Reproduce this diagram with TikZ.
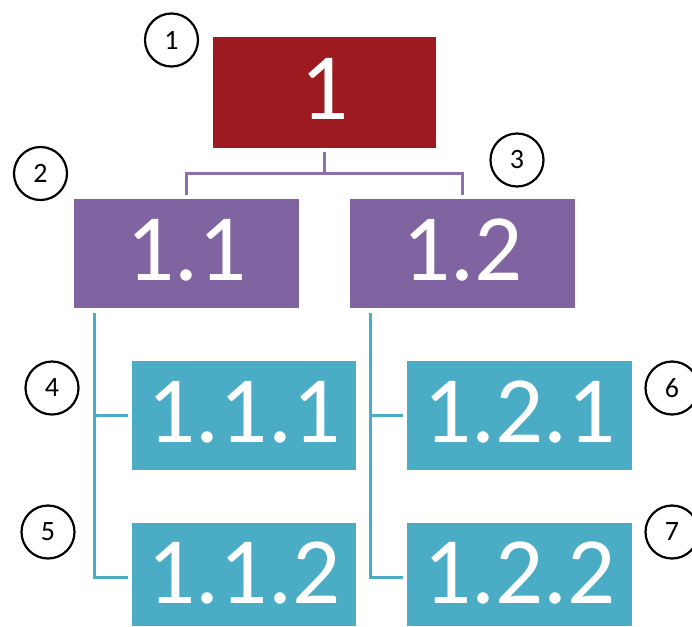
\documentclass[tikz,border=0pt]{standalone}
\usepackage{fontspec}
\setmainfont{Carlito}
\definecolor{boxred}{HTML}{9C1A20}
\definecolor{boxpurple}{HTML}{8064A2}
\definecolor{boxteal}{HTML}{4BACC6}
\definecolor{linepurple}{HTML}{8C70AE}
\begin{document}
\begin{tikzpicture}[x=1pt,y=-1pt,
  wbsbox/.style={rectangle, inner sep=0pt, text=white, minimum width=224pt, minimum height=109pt,
    font=\fontsize{95}{95}\selectfont, text depth=7pt},
  lowbox/.style={wbsbox, minimum height=103pt, text depth=3pt},
  numcirc/.style={circle, draw=black, line width=2.2pt, fill=white, minimum size=53pt, inner sep=0pt,
    font=\fontsize{28}{28}\selectfont},
  pline/.style={draw=linepurple, line width=3pt},
  tline/.style={draw=boxteal, line width=3pt}]
\useasboundingbox (0,0) rectangle (692,626);
\clip (0,0) rectangle (692,626);
\node[wbsbox, fill=boxred, minimum width=223pt, minimum height=111pt] (b1) at (324.5,92.5) {1};
\node[wbsbox, fill=boxpurple, minimum width=225pt] (b11) at (186.5,253.5) {1.1};
\node[wbsbox, fill=boxpurple, minimum width=225pt] (b12) at (462.5,253.5) {1.2};
\node[wbsbox, fill=boxteal] (b111) at (244,415.5) {1.1.1};
\node[lowbox, fill=boxteal] (b112) at (244,574.5) {1.1.2};
\node[wbsbox, fill=boxteal, minimum width=225pt] (b121) at (519.5,415.5) {1.2.1};
\node[lowbox, fill=boxteal, minimum width=225pt] (b122) at (519.5,574.5) {1.2.2};
% purple connectors
\coordinate (jn) at ([yshift=-25pt]b1.south);
\draw[pline] ([yshift=-4pt]b1.south) -- (jn);
\draw[pline] (jn) -| ([yshift=4pt]b11.north);
\draw[pline] (jn) -| ([yshift=4pt]b12.north);
% teal connectors
\coordinate (t1) at ([xshift=21pt,yshift=-5pt]b11.south west);
\coordinate (t2) at ([xshift=21pt,yshift=-5pt]b12.south west);
\coordinate (e112) at ([xshift=-4pt,yshift=-2.5pt]b112.west);
\coordinate (e122) at ([xshift=-4pt,yshift=-2.5pt]b122.west);
\draw[tline] (t1) |- (e112);
\draw[tline] (t1 |- b111.west) -- ([xshift=-4pt]b111.west);
\draw[tline] (t2) |- (e122);
\draw[tline] (t2 |- b121.west) -- ([xshift=-4pt]b121.west);
% numbered circles
\node[numcirc] (c1) at (171.5,40) {1};
\node[numcirc] (c2) at (40.5,173.5) {2};
\node[numcirc] (c3) at (517,160) {3};
\node[numcirc] (c4) at (52,388) {4};
\node[numcirc] (c5) at (48,532) {5};
\node[numcirc] (c6) at (672,388) {6};
\node[numcirc] (c7) at (672,532) {7};
\end{tikzpicture}
\end{document}
